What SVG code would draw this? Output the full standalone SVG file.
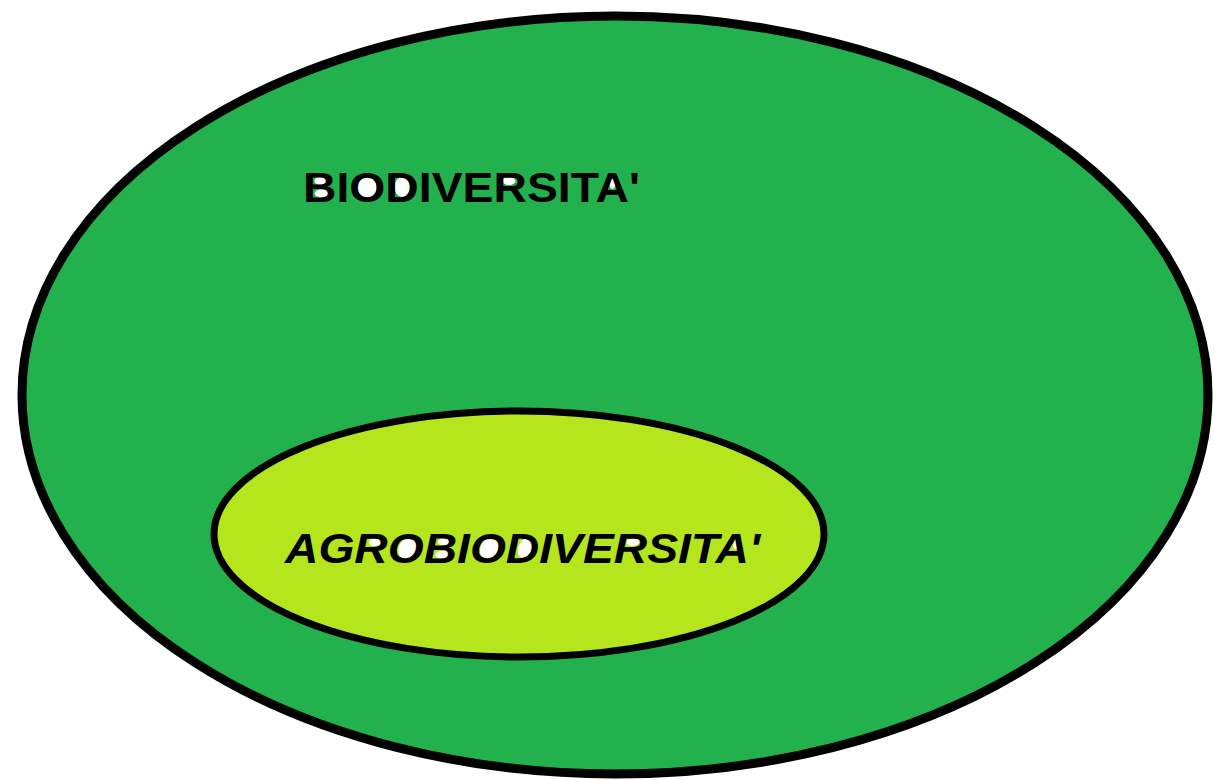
<svg xmlns="http://www.w3.org/2000/svg" width="1214" height="780" viewBox="0 0 1214 780">
<style>
.outer{fill:#22B14C;stroke:#000;stroke-width:9}
.inner{fill:#B5E61D;stroke:#000;stroke-width:7}
.lbl{font-family:"Liberation Sans",Arial,sans-serif;font-weight:bold;font-size:42px;fill:#000}
.ctr{fill:#fff}
</style>
<rect width="1214" height="780" fill="#fff"/>
<g id="biodiversita">
<ellipse class="outer" cx="615" cy="395" rx="593" ry="379"/>
<g class="ctr">
<ellipse cx="320.8" cy="181" rx="6.5" ry="4"/>
<ellipse cx="321.5" cy="193.5" rx="7" ry="4"/>
<ellipse cx="366.7" cy="187" rx="10" ry="11"/>
<ellipse cx="402" cy="187" rx="7.5" ry="10"/>
<ellipse cx="509" cy="181" rx="6.5" ry="4"/>
<ellipse cx="612.5" cy="184" rx="3" ry="5"/>
</g>
<text class="lbl" x="303" y="202" textLength="337" lengthAdjust="spacingAndGlyphs">BIODIVERSITA'</text>
</g>
<g id="agrobiodiversita">
<ellipse class="inner" cx="519" cy="534" rx="305" ry="123"/>
<g class="ctr">
<ellipse rx="6.5" ry="4" transform="translate(375.5 542) skewX(-12)"/>
<ellipse rx="9.5" ry="11" transform="translate(408 548) skewX(-12)"/>
<ellipse rx="6.5" ry="4" transform="translate(444.5 541.5) skewX(-12)"/>
<ellipse rx="7" ry="4" transform="translate(442.4 554.5) skewX(-12)"/>
<ellipse rx="9.5" ry="11" transform="translate(489.6 548) skewX(-12)"/>
<ellipse rx="7" ry="10" transform="translate(525 548) skewX(-12)"/>
<ellipse rx="6.5" ry="4" transform="translate(633.1 542) skewX(-12)"/>
<ellipse rx="3" ry="5" transform="translate(736.5 544) skewX(-12)"/>
</g>
<text class="lbl" x="285" y="563" font-style="italic" textLength="475" lengthAdjust="spacingAndGlyphs">AGROBIODIVERSITA'</text>
</g>
<g id="connectors"/>
</svg>
